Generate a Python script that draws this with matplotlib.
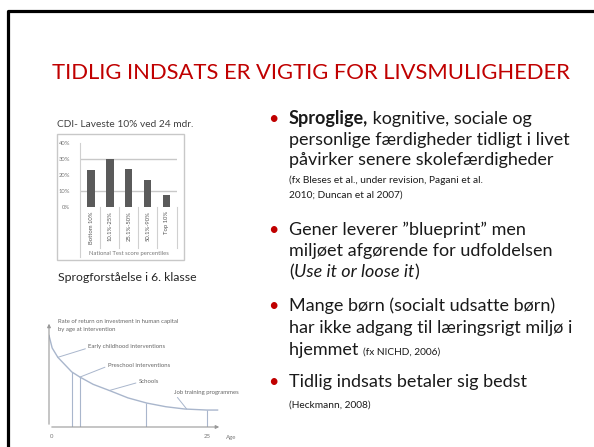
import matplotlib
matplotlib.use("Agg")
from matplotlib import pyplot as plt
from matplotlib.lines import Line2D
from matplotlib.patches import Rectangle

# ----------------- data -----------------
bar_title = "CDI- Laveste 10% ved 24 mdr."
bar_cats = ["Bottom 10%", "10.1%-25%", "25.1%-50%", "50.1%-90%", "Top 10%"]
bar_vals = [23, 30, 24, 17, 7.5]
bar_yticks = [0, 10, 20, 30, 40]
bar_xlabel = "National Test score percentiles"
bar_caption = "Sprogforståelse i 6. klasse"

curve_age = [0, 0.5, 1.4, 3.6, 4.9, 7.0, 9.6, 12.5, 15.5, 18.5, 21.5, 25.0, 26.7]
curve_ret = [88, 76, 67, 53, 48, 41, 35, 28, 23, 19.5, 17.3, 16.3, 16.3]
drop_age = [3.6, 4.9, 15.3, 25.0]
drop_ret = [53, 48, 23.3, 16.3]
curve_labels = ["Early childhood interventions", "Preschool interventions",
                "Schools", "Job training programmes"]
label_pts = [(1.4, 67), (4.9, 48), (9.5, 35), (21.8, 17.3)]
label_pos = [(6.2, 77), (9.3, 59.5), (14.2, 44), (19.8, 33.5)]

title = "TIDLIG INDSATS ER VIGTIG FOR LIVSMULIGHEDER"
RED = "#C00000"
TXT = "#1a1a1a"

W, H = 594, 447
plt.rcParams['font.family'] = ['Lato', 'DejaVu Sans']
fig = plt.figure(figsize=(W / 100, H / 100), dpi=100)
fig.patch.set_facecolor("white")


def fx(x):
    return x / W


def fy(y):
    return 1 - y / H


# slide frame (left + top edge)
fig.add_artist(Line2D([fx(7.5), fx(7.5), fx(W + 5)], [fy(H + 5), fy(10.5), fy(10.5)],
                      transform=fig.transFigure, color="black", lw=2.3))

fig.text(fx(52), fy(79), title, color=RED, fontsize=15.8, va="baseline")

# ----------------- bar chart -----------------
fig.add_artist(Rectangle((fx(57), fy(260)), fx(184) - fx(57), fy(134) - fy(260),
                         transform=fig.transFigure, fill=False, ec="#c8c8c8", lw=1))
fig.text(fx(57), fy(127), bar_title, color="#404040", fontsize=7.3, va="baseline")

ax1 = fig.add_axes([fx(80), fy(207), fx(177) - fx(80), fy(143) - fy(207)])
xs = range(len(bar_vals))
ax1.bar(xs, bar_vals, width=0.37, color="#5a5a5a", zorder=3)
ax1.set_xlim(-0.58, 4.53)
ax1.set_ylim(0, 40)
for g in (10, 30):
    ax1.axhline(g, color="#c8c8c8", lw=1, zorder=1)
for s in ax1.spines.values():
    s.set_visible(False)
ax1.set_yticks(bar_yticks)
ax1.set_yticklabels([f"{v}%" for v in bar_yticks], fontsize=4.2, color="#777777")
ax1.tick_params(axis="y", length=0, pad=7)
ax1.set_xticks([])
ax1.patch.set_alpha(0)
for i, lab in enumerate(bar_cats):
    ax1.annotate(lab, xy=(i, 0), xytext=(0, -3), textcoords="offset points",
                 rotation=90, ha="center", va="top", fontsize=4.2, color="#555555",
                 annotation_clip=False)
# separators in label area
for xpx in (80, 100, 119, 138, 157, 177):
    y_end = 257 if xpx == 80 else 248
    y_top = 143 if xpx == 80 else 207
    fig.add_artist(Line2D([fx(xpx), fx(xpx)], [fy(y_top), fy(y_end)],
                          transform=fig.transFigure, color="#d0d0d0", lw=0.8))
fig.text(fx(129), fy(254), bar_xlabel, fontsize=4.2, color="#777777", ha="center", va="center")
fig.text(fx(58), fy(281), bar_caption, fontsize=8.8, color="#262626", va="baseline")

# ----------------- curve chart -----------------
CUR = "#a9b6cc"
ax2 = fig.add_axes([fx(49), fy(427), fx(222) - fx(49), fy(323) - fy(427)])
ax2.set_xlim(0, 27.4)
ax2.set_ylim(0, 100)
ax2.plot(curve_age, curve_ret, color=CUR, lw=1)
ax2.vlines(drop_age, 0, drop_ret, color=CUR, lw=0.8)
for s in ax2.spines.values():
    s.set_visible(False)
ax2.set_xticks([])
ax2.set_yticks([])
ax2.patch.set_alpha(0)
ax2.annotate("", xy=(1, 0), xytext=(0, 0), xycoords="axes fraction",
             arrowprops=dict(arrowstyle="-|>", color="#999999", lw=0.8, mutation_scale=5))
ax2.annotate("", xy=(0, 1.02), xytext=(0, 0), xycoords="axes fraction",
             arrowprops=dict(arrowstyle="-|>", color="#999999", lw=0.8, mutation_scale=5))
for lab, pt, pos in zip(curve_labels, label_pts, label_pos):
    ax2.annotate(lab, xy=pt, xytext=pos, fontsize=4.3, color="#666666",
                 va="center", ha="left",
                 arrowprops=dict(arrowstyle="-", color=CUR, lw=0.7,
                                 shrinkA=0, shrinkB=0, relpos=(0, 0.3)),
                 annotation_clip=False)
fig.text(fx(52), fy(437), "0", fontsize=4.3, color="#777777", ha="center", va="center")
fig.text(fx(207), fy(437), "25", fontsize=4.3, color="#777777", ha="center", va="center")
fig.text(fx(231), fy(437), "Age", fontsize=4.3, color="#777777", ha="center", va="center")
fig.text(fx(58), fy(321), "Rate of return on investment in human capital",
         fontsize=4.3, color="#666666", va="center")
fig.text(fx(58), fy(330), "by age at intervention", fontsize=4.3, color="#666666", va="center")

# ----------------- bullet text -----------------
fig.canvas.draw()
renderer = fig.canvas.get_renderer()

BIG = 13.0
SMALL = 7.3
TX = 289


def line(y, parts):
    x = TX
    for s, kw in parts:
        t = fig.text(fx(x), fy(y), s, color=TXT, va="baseline", **kw)
        x += t.get_window_extent(renderer).width


def bullet(y):
    fig.text(fx(273), fy(y), "•", color=RED, fontsize=BIG, ha="center", va="baseline")


big = dict(fontsize=BIG)
small = dict(fontsize=SMALL)

bullet(124)
line(124, [("Sproglige,", dict(fontsize=BIG, fontweight="bold")),
           (" kognitive, sociale og", big)])
line(145, [("personlige færdigheder tidligt i livet", big)])
line(165, [("påvirker senere skolefærdigheder", big)])
line(183, [("(fx Bleses et al., under revision, Pagani et al.", small)])
line(198, [("2010; Duncan et al 2007)", small)])

bullet(235)
line(235, [("Gener leverer ”blueprint” men", big)])
line(256, [("miljøet afgørende for udfoldelsen", big)])
line(277, [("(", big), ("Use it or loose it", dict(fontsize=BIG, fontstyle="italic")), (")", big)])

bullet(311)
line(311, [("Mange børn (socialt udsatte børn)", big)])
line(333, [("har ikke adgang til læringsrigt miljø i", big)])
line(355, [("hjemmet ", big), ("(fx NICHD, 2006)", small)])

bullet(387)
line(387, [("Tidlig indsats betaler sig bedst", big)])
line(408, [("(Heckmann, 2008)", small)])

fig.savefig("out.png", dpi=100)
